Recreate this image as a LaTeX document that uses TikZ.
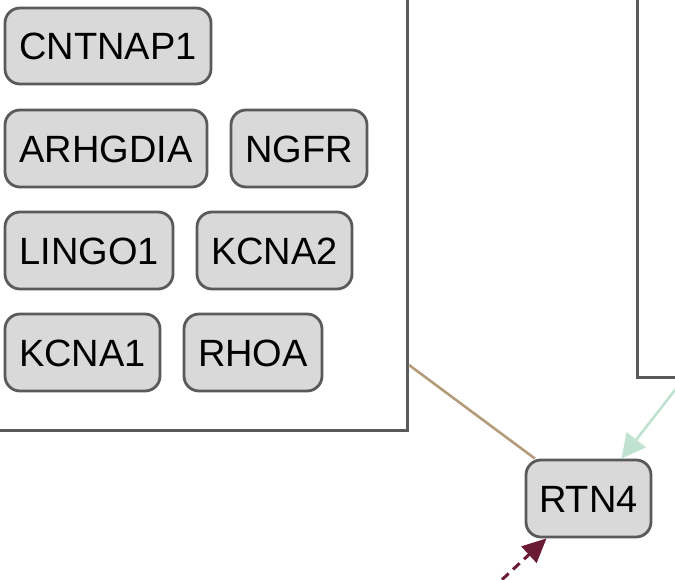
\documentclass[tikz,border=0pt]{standalone}
\usepackage{fontspec}
\setmainfont{Liberation Sans}
\usetikzlibrary{arrows.meta}
\definecolor{nodefill}{HTML}{D9D9D9}
\definecolor{nodeline}{HTML}{5A5A5A}
\definecolor{tanline}{HTML}{B39B7C}
\definecolor{mintline}{HTML}{BFE3D0}
\definecolor{maroonline}{HTML}{6B1A35}
\tikzset{
  gene/.style={draw=nodeline, fill=nodefill, line width=2.8pt, rounded corners=15pt,
    inner sep=0pt, font=\fontsize{38}{45}\selectfont, text height=27pt, text depth=0pt},
  grp/.style={draw=nodeline, line width=3pt, fill=none, inner sep=0pt},
}
\newcommand{\gene}[6]{%
  \node[gene, minimum width={#4-#2}, minimum height={#5-#3}] (#1) at ({(#2+#4)/2},{(#3+#5)/2}) {#6};}
\begin{document}
\begin{tikzpicture}[x=1pt,y=-1pt]
\useasboundingbox (0,0) rectangle (675,579);
\clip (0,0) rectangle (675,579);
\fill[white] (0,0) rectangle (675,579);
% groups
\node[grp, minimum width=449, minimum height=472, anchor=south east] (gL) at (409,432) {};
\node[grp, minimum width=120, minimum height=420, anchor=south west] (gR) at (636,379) {};
% genes
\gene{cntnap1}{5}{8}{211}{84}{CNTNAP1}
\gene{arhgdia}{5}{110}{207}{187}{ARHGDIA}
\gene{ngfr}{231}{110}{367}{187}{NGFR}
\gene{lingo1}{5}{212}{173}{289}{LINGO1}
\gene{kcna2}{197}{212}{352}{289}{KCNA2}
\gene{kcna1}{5}{314}{160}{391}{KCNA1}
\gene{rhoa}{184}{314}{322}{391}{RHOA}
\gene{rtn4}{526}{460}{651}{537}{RTN4}
% free ends
\coordinate (greenstart) at (700,358);
\coordinate (maroonstart) at (480,600);
% connectors
\draw[tanline, line width=2.6pt] ([yshift=67pt]gL.south east) -- (rtn4);
\draw[mintline, line width=2.6pt, -{Triangle[length=24pt,width=24pt]}] (greenstart) -- ([xshift=33pt]rtn4.north);
\draw[maroonline, line width=3pt, dash pattern=on 9pt off 6pt, -{Triangle[length=24pt,width=22pt]}] (maroonstart) -- ([xshift=-42pt]rtn4.south);
\end{tikzpicture}
\end{document}
